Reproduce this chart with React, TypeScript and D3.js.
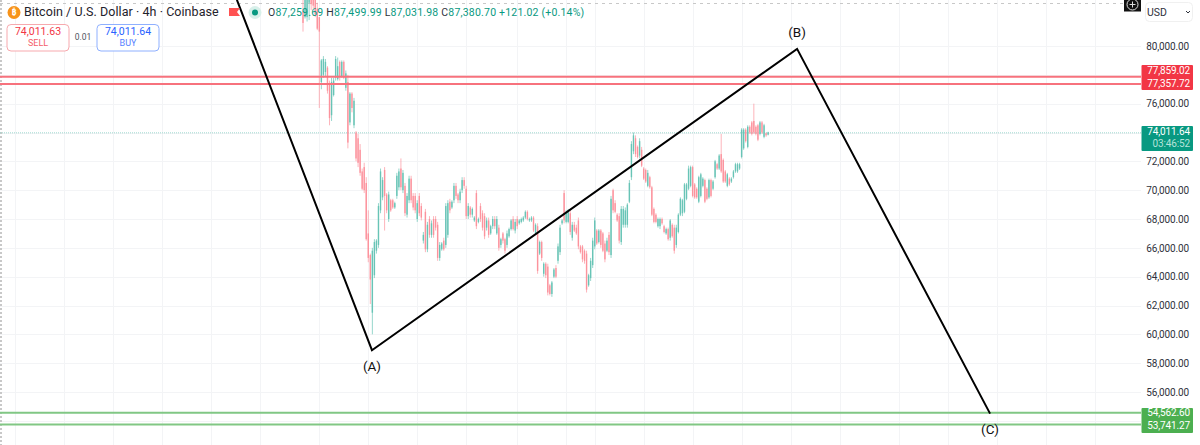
import * as d3 from "d3";
import React, { useEffect, useRef } from "react";

const opens = [
  82.4, 82.0, 82.0, 83.0, 83.8, 83.3, 83.2, 82.6, 82.0, 77.5,
  78.0, 78.2, 78.5, 77.4, 75.2, 76.6, 77.8, 77.7, 78.9, 77.9,
  78.9, 77.1, 77.5, 74.7, 76.7, 74.5, 74.0, 73.6, 72.8, 71.3,
  71.6, 70.5, 67.0, 65.5, 61.5, 64.1, 65.8, 66.2, 68.6, 69.5,
  71.4, 69.7, 68.0, 69.3, 69.3, 68.8, 69.6, 70.2, 71.5, 70.0,
  70.3, 68.3, 69.3, 70.8, 69.6, 69.6, 68.0, 69.6, 68.9, 66.5,
  68.5, 65.9, 68.0, 66.9, 68.0, 68.0, 67.6, 65.3, 65.9, 66.5,
  66.2, 66.9, 69.2, 68.8, 69.3, 70.3, 69.7, 69.3, 70.0, 70.7,
  70.1, 68.2, 68.8, 68.3, 67.9, 69.8, 67.8, 68.9, 68.4, 68.2,
  67.4, 67.9, 67.0, 67.5, 68.0, 67.0, 67.4, 66.2, 67.0, 66.6,
  66.2, 66.8, 67.3, 68.0, 67.2, 68.0, 67.7, 67.8, 67.9, 68.1,
  68.5, 67.9, 67.9, 68.1, 67.0, 67.5, 65.6, 66.4, 64.2, 64.9,
  64.7, 63.4, 62.8, 64.0, 64.6, 65.1, 65.7, 67.7, 69.8, 67.8,
  67.8, 68.4, 66.7, 67.6, 67.4, 67.9, 66.1, 66.1, 65.8, 65.6,
  63.4, 63.9, 64.8, 66.1, 67.2, 66.4, 67.2, 67.0, 66.3, 65.8,
  66.9, 65.5, 70.0, 69.1, 68.3, 68.2, 66.4, 67.6, 67.6, 67.6,
  69.2, 70.9, 72.7, 73.6, 73.0, 72.4, 72.8, 71.5, 71.4, 70.3,
  70.9, 70.2, 68.7, 68.3, 67.5, 67.5, 68.0, 67.5, 67.0, 67.3,
  66.7, 67.6, 67.4, 66.2, 67.1, 68.3, 68.4, 68.5, 69.4, 70.1,
  70.3, 71.6, 70.4, 70.1, 69.2, 69.6, 70.3, 70.7, 70.1, 69.5,
  70.7, 70.1, 70.9, 71.8, 71.5, 72.5, 72.1, 71.3, 70.3, 70.8,
  70.6, 70.9, 71.3, 71.3, 71.5, 72.3, 72.9, 74.2, 73.0, 74.4,
  74.7, 74.8, 74.4, 74.5, 73.9, 74.7, 73.7, 73.95, 73.85,
];
const highs = [
  83.6, 84.0, 83.8, 84.2, 84.0, 83.5, 83.4, 83.0, 82.0, 79.1,
  79.3, 79.1, 78.6, 77.6, 77.8, 77.8, 79.3, 79.2, 79.0, 79.0,
  79.0, 78.3, 78.0, 76.8, 76.8, 76.4, 74.1, 73.9, 73.2, 71.5,
  71.9, 70.9, 68.6, 65.6, 66.0, 66.6, 66.6, 69.1, 71.5, 70.9,
  71.6, 69.8, 69.9, 69.4, 69.4, 69.2, 71.2, 71.5, 72.2, 71.4,
  70.5, 69.8, 71.0, 71.0, 69.8, 69.8, 69.3, 69.8, 69.1, 67.1,
  68.7, 67.8, 68.2, 67.9, 68.2, 68.2, 67.8, 66.4, 66.4, 66.7,
  69.1, 69.3, 69.4, 69.3, 70.5, 70.5, 69.8, 70.1, 70.9, 70.9,
  70.3, 69.1, 68.9, 68.8, 68.2, 70.0, 68.1, 69.1, 68.6, 68.4,
  68.1, 68.1, 67.6, 68.2, 68.2, 68.2, 67.6, 66.7, 67.1, 66.7,
  67.2, 67.4, 68.0, 68.2, 68.0, 68.2, 68.0, 68.1, 68.2, 68.6,
  68.6, 68.1, 68.2, 68.2, 67.7, 67.7, 66.5, 66.5, 65.0, 65.0,
  64.9, 63.5, 63.7, 64.6, 64.8, 66.3, 67.6, 68.0, 70.0, 68.6,
  68.7, 68.6, 67.8, 67.8, 67.6, 68.1, 66.2, 66.2, 65.9, 65.8,
  64.2, 65.3, 66.7, 68.1, 67.3, 67.3, 67.3, 67.1, 66.5, 66.7,
  67.1, 69.6, 70.1, 69.3, 68.4, 68.4, 68.9, 68.9, 68.8, 69.1,
  70.7, 73.4, 74.0, 73.8, 73.1, 73.6, 73.0, 71.6, 71.5, 71.4,
  71.0, 70.3, 68.8, 68.4, 68.1, 68.1, 68.1, 67.6, 67.4, 67.4,
  68.0, 67.7, 67.6, 67.6, 68.4, 69.5, 69.4, 70.5, 70.5, 71.7,
  71.7, 71.7, 70.5, 70.2, 71.0, 71.2, 70.9, 70.8, 70.2, 70.8,
  70.8, 70.7, 72.1, 71.9, 72.5, 73.9, 72.2, 71.4, 71.2, 70.9,
  70.9, 71.4, 71.9, 71.9, 71.9, 74.3, 74.3, 74.3, 74.5, 74.5,
  74.8, 76.0, 74.5, 74.6, 74.8, 74.8, 74.6, 74.0, 74.05,
];
const lows = [
  81.0, 81.9, 81.7, 81.8, 82.5, 82.6, 82.0, 81.1, 75.7, 77.0,
  77.8, 77.9, 76.7, 74.5, 74.8, 76.5, 77.6, 77.6, 77.6, 77.8,
  77.7, 76.9, 72.9, 74.5, 75.4, 74.3, 72.0, 71.6, 71.0, 70.0,
  69.8, 66.5, 65.0, 62.1, 60.0, 63.9, 65.6, 66.0, 68.4, 69.3,
  67.2, 68.4, 67.8, 68.5, 68.7, 68.7, 69.4, 70.0, 70.0, 69.8,
  68.2, 68.1, 69.1, 69.1, 68.6, 68.4, 67.8, 68.2, 67.9, 66.3,
  65.7, 65.7, 66.7, 66.7, 66.7, 67.2, 65.1, 65.1, 65.8, 65.8,
  66.0, 66.7, 68.4, 68.7, 69.1, 69.4, 69.1, 69.1, 69.8, 70.1,
  68.0, 68.0, 68.1, 68.1, 67.8, 67.3, 67.7, 67.8, 67.2, 66.6,
  67.2, 66.7, 66.9, 67.3, 67.3, 66.9, 65.8, 66.0, 66.3, 65.6,
  66.0, 66.7, 67.2, 67.2, 67.0, 67.3, 67.6, 67.7, 67.8, 68.0,
  67.9, 67.8, 67.8, 67.1, 66.9, 64.2, 65.5, 65.1, 64.0, 63.9,
  62.7, 62.7, 62.6, 63.9, 63.9, 64.9, 65.5, 67.6, 67.7, 67.7,
  67.7, 66.9, 66.5, 67.1, 66.9, 65.9, 65.6, 65.0, 64.9, 62.9,
  63.3, 63.7, 64.6, 65.9, 66.2, 66.3, 66.0, 65.7, 65.0, 65.7,
  65.5, 65.3, 68.4, 68.4, 67.8, 66.3, 66.2, 67.4, 67.4, 67.4,
  69.1, 70.7, 72.5, 72.3, 72.2, 72.2, 71.6, 70.7, 70.5, 70.2,
  70.1, 68.2, 67.7, 67.7, 67.4, 67.3, 67.6, 67.0, 66.9, 66.5,
  66.5, 66.7, 65.6, 66.0, 67.0, 68.2, 68.2, 68.4, 69.3, 70.0,
  70.2, 69.5, 69.4, 69.4, 69.1, 69.5, 70.2, 69.1, 69.3, 69.4,
  69.5, 70.0, 70.8, 71.4, 71.4, 71.2, 70.5, 70.5, 70.2, 70.3,
  70.5, 70.8, 71.2, 71.2, 71.4, 72.2, 72.8, 73.3, 72.9, 73.9,
  73.8, 73.9, 73.8, 73.4, 73.8, 73.9, 73.6, 73.7, 73.8,
];
const closes = [
  81.6, 83.4, 83.2, 83.9, 82.9, 82.8, 82.2, 81.2, 81.0, 79.0,
  79.1, 78.9, 76.9, 75.0, 77.5, 77.6, 79.1, 78.6, 77.9, 78.9,
  77.8, 78.1, 73.3, 76.7, 75.7, 76.2, 72.2, 71.9, 71.2, 70.1,
  70.0, 66.6, 65.3, 63.8, 65.8, 66.4, 66.5, 68.9, 71.3, 70.7,
  69.6, 68.6, 69.7, 68.6, 68.8, 69.1, 71.0, 71.3, 70.2, 71.2,
  68.4, 69.6, 70.8, 69.3, 68.8, 68.6, 69.1, 68.4, 68.1, 66.9,
  65.9, 67.6, 66.9, 67.7, 66.9, 67.4, 65.3, 66.2, 66.3, 65.9,
  68.9, 69.1, 68.6, 69.2, 70.3, 69.6, 69.3, 69.9, 70.7, 70.3,
  68.2, 68.9, 68.3, 68.7, 68.1, 67.5, 68.0, 68.0, 67.4, 66.8,
  67.9, 66.9, 67.5, 68.0, 67.5, 68.0, 66.0, 66.6, 66.5, 65.8,
  67.0, 67.3, 67.9, 67.3, 67.8, 67.5, 67.9, 68.0, 68.1, 68.5,
  68.0, 68.0, 68.1, 67.2, 67.6, 64.4, 66.4, 65.3, 64.9, 64.1,
  62.9, 62.8, 63.6, 64.5, 64.0, 66.1, 67.4, 67.9, 67.9, 68.5,
  68.6, 67.1, 67.6, 67.2, 67.0, 66.1, 65.7, 65.2, 65.1, 63.1,
  64.1, 65.1, 66.5, 67.9, 66.3, 67.2, 66.2, 65.8, 65.2, 66.5,
  65.7, 69.4, 68.6, 68.5, 67.9, 66.5, 68.7, 68.7, 68.6, 69.0,
  70.5, 73.2, 73.8, 72.5, 72.3, 73.4, 71.7, 70.8, 70.6, 71.2,
  70.2, 68.3, 67.8, 67.8, 68.0, 68.0, 67.7, 67.1, 67.3, 66.6,
  67.9, 66.8, 65.8, 67.4, 68.3, 69.4, 69.3, 70.4, 70.4, 71.5,
  71.6, 69.6, 69.5, 69.5, 70.9, 71.1, 70.8, 69.2, 69.4, 70.7,
  69.6, 70.6, 72.0, 71.5, 72.4, 71.3, 70.6, 70.6, 71.1, 70.4,
  70.8, 71.3, 71.8, 71.8, 71.8, 74.2, 74.2, 73.4, 74.4, 74.0,
  73.9, 74.0, 73.9, 73.5, 74.7, 74.0, 74.5, 73.8, 74.01,
];

const priceTicks = [80000, 76000, 72000, 70000, 68000, 66000, 64000, 62000, 60000, 58000, 56000];
const gridPrices = [80000, 78000, 76000, 74000, 72000, 70000, 68000, 66000, 64000, 62000, 60000, 58000, 56000, 54000];
const gridBars = [-141, -117, -93, -69, -45, -21, 8, 32, 56, 80, 105, 129, 143, 167, 191, 215, 239, 263, 292, 316, 340, 364, 388];

const resistance = [77859.02, 77357.72];
const support = [54562.6, 53741.27];
const lastPrice = 74011.64;

const waveBars = [-32.4, 33.8, 242.2, 336.8];
const wavePrices = [83200, 58900, 79800, 54500];
const waveLabels = ["(A)", "(B)", "(C)"];

const fmt = d3.format(",.2f");
const FONT = "Roboto, 'Noto Sans', sans-serif";

const App = () => {
  const ref = useRef<SVGSVGElement>(null);

  useEffect(() => {
    const svg = d3.select(ref.current);
    svg.selectAll("*").remove();

    const x = d3.scaleLinear().domain([0, 228]).range([303, 768.12]);
    const y = d3.scaleLinear().domain([80000, 56000]).range([46, 392]);
    const plotRight = 1141;

    svg.append("rect").attr("width", 1200).attr("height", 445).attr("fill", "#fff");

    // grid
    const grid = svg.append("g").attr("stroke", "#f3f4f6").attr("stroke-width", 1);
    grid.selectAll(".gx").data(gridBars).enter().append("line")
      .attr("x1", (d) => Math.round(x(d)) + 0.5).attr("x2", (d) => Math.round(x(d)) + 0.5)
      .attr("y1", 0).attr("y2", 445);
    grid.selectAll(".gy").data(gridPrices).enter().append("line")
      .attr("x1", 0).attr("x2", plotRight)
      .attr("y1", (d) => Math.round(y(d)) + 0.5).attr("y2", (d) => Math.round(y(d)) + 0.5);

    // page frame of the screenshot
    svg.append("line").attr("x1", 0).attr("x2", 1124).attr("y1", 3.5).attr("y2", 3.5)
      .attr("stroke", "#c8c8c8").attr("stroke-dasharray", "3 4");
    svg.append("line").attr("x1", 1).attr("x2", 1).attr("y1", 0).attr("y2", 445)
      .attr("stroke", "#c8c8c8").attr("stroke-width", 2).attr("stroke-dasharray", "2 2");

    // last price line
    svg.append("line").attr("x1", 0).attr("x2", plotRight)
      .attr("y1", y(lastPrice) + 0.5).attr("y2", y(lastPrice) + 0.5)
      .attr("stroke", "#9ed8ce").attr("stroke-width", 1).attr("stroke-dasharray", "1 1");

    // candles
    const bars = d3.range(opens.length);
    const color = (i: number) => (closes[i] >= opens[i] ? "#68c4b6" : "#fc939d");
    const candles = svg.append("g");
    candles.selectAll(".wick").data(bars).enter().append("line")
      .attr("x1", (i) => x(i)).attr("x2", (i) => x(i))
      .attr("y1", (i) => y(highs[i] * 1000)).attr("y2", (i) => y(lows[i] * 1000))
      .attr("stroke", color).attr("stroke-width", 0.7);
    candles.selectAll(".body").data(bars).enter().append("rect")
      .attr("x", (i) => x(i) - 0.7).attr("width", 1.4)
      .attr("y", (i) => y(Math.max(opens[i], closes[i]) * 1000))
      .attr("height", (i) => Math.max(0.7, Math.abs(y(opens[i] * 1000) - y(closes[i] * 1000))))
      .attr("fill", color);

    // horizontal levels
    svg.selectAll(".res").data(resistance).enter().append("line")
      .attr("x1", 0).attr("x2", plotRight).attr("y1", (d) => y(d)).attr("y2", (d) => y(d))
      .attr("stroke", "#f7727d").attr("stroke-width", 2);
    svg.selectAll(".sup").data(support).enter().append("line")
      .attr("x1", 0).attr("x2", plotRight).attr("y1", (d) => y(d)).attr("y2", (d) => y(d))
      .attr("stroke", "#81c784").attr("stroke-width", 2);

    // wave lines
    const wave = d3.line<number>().x((d) => x(d)).y((_, i) => y(wavePrices[i]));
    svg.append("path").attr("d", wave(waveBars)).attr("fill", "none")
      .attr("stroke", "#000").attr("stroke-width", 2).attr("stroke-linejoin", "miter");
    const labelDy = [17, -15, 17];
    svg.selectAll(".wl").data(waveLabels).enter().append("text")
      .attr("x", (_, i) => x(waveBars[i + 1]))
      .attr("y", (_, i) => y(wavePrices[i + 1]) + labelDy[i])
      .attr("text-anchor", "middle").attr("dominant-baseline", "middle")
      .attr("font-family", FONT).attr("font-size", 13.5).attr("fill", "#111")
      .text((d) => d);

    // price axis
    const axis = svg.append("g").attr("transform", "translate(1189,0)")
      .call(d3.axisRight(y).tickValues(priceTicks).tickSize(0).tickPadding(0).tickFormat((d) => fmt(d as number)));
    axis.select(".domain").remove();
    axis.selectAll("text").attr("text-anchor", "end").attr("font-family", FONT)
      .attr("font-size", 10).attr("letter-spacing", -0.12).attr("fill", "#2f323c");

    // price tags
    const tag = (y0: number, y1: number, fill: string) =>
      svg.append("rect").attr("x", 1141.5).attr("y", y0).attr("width", 51.5).attr("height", y1 - y0).attr("rx", 1).attr("fill", fill);
    const tagText = (cy: number, t: string, fill = "#fff") =>
      svg.append("text").attr("x", 1190).attr("y", cy).attr("text-anchor", "end").attr("dominant-baseline", "middle")
        .attr("font-family", FONT).attr("font-size", 10).attr("letter-spacing", -0.12).attr("fill", fill).text(t);
    tag(65, 90, "#f23645");
    tagText(71, fmt(resistance[0]));
    tagText(84, fmt(resistance[1]));
    tag(126, 151, "#089981");
    tagText(132.5, fmt(lastPrice));
    tagText(144.5, "03:46:52", "#b5e3d9");
    tag(408, 433, "#4caf50");
    tagText(413, fmt(support[0]));
    tagText(426.5, fmt(support[1]));

    // currency box and plus button
    svg.append("rect").attr("x", 1145.5).attr("y", 2.5).attr("width", 47).attr("height", 19).attr("rx", 4)
      .attr("fill", "#fff").attr("stroke", "#f0f0f0");
    svg.append("text").attr("x", 1147).attr("y", 13).attr("dominant-baseline", "middle")
      .attr("font-family", FONT).attr("font-size", 10.5).attr("fill", "#2f323c").text("USD");
    svg.append("path").attr("d", "M1190 11l-2 2l-2 -2").attr("fill", "none").attr("stroke", "#2f323c");
    svg.append("rect").attr("x", 1124).attr("y", 0).attr("width", 17).attr("height", 11.5).attr("fill", "#111");
    svg.append("circle").attr("cx", 1132.5).attr("cy", 4.5).attr("r", 5.5).attr("fill", "none").attr("stroke", "#ddd");
    svg.append("path").attr("d", "M1129.5 4.5h6M1132.5 1.5v6").attr("stroke", "#ddd");

    // header
    svg.append("circle").attr("cx", 14).attr("cy", 12.5).attr("r", 6.5).attr("fill", "#f7931a");
    svg.append("text").attr("x", 14).attr("y", 13).attr("text-anchor", "middle").attr("dominant-baseline", "middle")
      .attr("font-family", FONT).attr("font-size", 8.5).attr("font-weight", 700).attr("fill", "#fff").text("₿");
    svg.append("text").attr("x", 24).attr("y", 13).attr("dominant-baseline", "middle")
      .attr("font-family", FONT).attr("font-size", 12.5).attr("fill", "#1f222b")
      .attr("letter-spacing", 0.06).text("Bitcoin / U.S. Dollar · 4h · Coinbase");
    svg.append("path").attr("d", "M229 8h11l-3 4l3 4h-11z").attr("fill", "#ff5252");
    svg.append("circle").attr("cx", 255).attr("cy", 12.5).attr("r", 6.5).attr("fill", "#d8f0ea");
    svg.append("circle").attr("cx", 255).attr("cy", 12.5).attr("r", 3).attr("fill", "#089981");

    const ohlc = svg.append("text").attr("x", 268).attr("y", 13).attr("dominant-baseline", "middle")
      .attr("font-family", FONT).attr("font-size", 10.5).attr("fill", "#26a69a").attr("letter-spacing", 0.2)
      .style("white-space", "pre");
    const legend = [["O", "87,259.69 "], ["H", "87,499.99 "], ["L", "87,031.98 "], ["C", "87,380.70 "], ["", "+121.02 (+0.14%)"]];
    legend.forEach(([k, v]) => {
      ohlc.append("tspan").attr("fill", "#2f323c").text(k);
      ohlc.append("tspan").attr("fill", "#089981").text(v);
    });

    const quote = (bx: number, stroke: string, fill: string, sub: string, price: number) => {
      svg.append("rect").attr("x", bx).attr("y", 24.5).attr("width", 62).attr("height", 26.5).attr("rx", 4)
        .attr("fill", "#fff").attr("stroke", stroke);
      svg.append("text").attr("x", bx + 31).attr("y", 32.5).attr("text-anchor", "middle").attr("dominant-baseline", "middle")
        .attr("font-family", FONT).attr("font-size", 10.5).attr("fill", fill).text(fmt(price));
      svg.append("text").attr("x", bx + 31).attr("y", 43.5).attr("text-anchor", "middle").attr("dominant-baseline", "middle")
        .attr("font-family", FONT).attr("font-size", 9).attr("fill", fill).attr("opacity", 0.8).text(sub);
    };
    quote(7, "#f7a9ae", "#f23645", "SELL", 74011.63);
    quote(97, "#8fb0ff", "#2962ff", "BUY", 74011.64);
    svg.append("text").attr("x", 83).attr("y", 37.5).attr("text-anchor", "middle").attr("dominant-baseline", "middle")
      .attr("font-family", FONT).attr("font-size", 8.5).attr("fill", "#50535e").text("0.01");
  }, []);

  return (
    <svg ref={ref} width={1200} height={445} style={{ position: "absolute", left: 0, top: 0, display: "block" }} />
  );
};

export default App;
